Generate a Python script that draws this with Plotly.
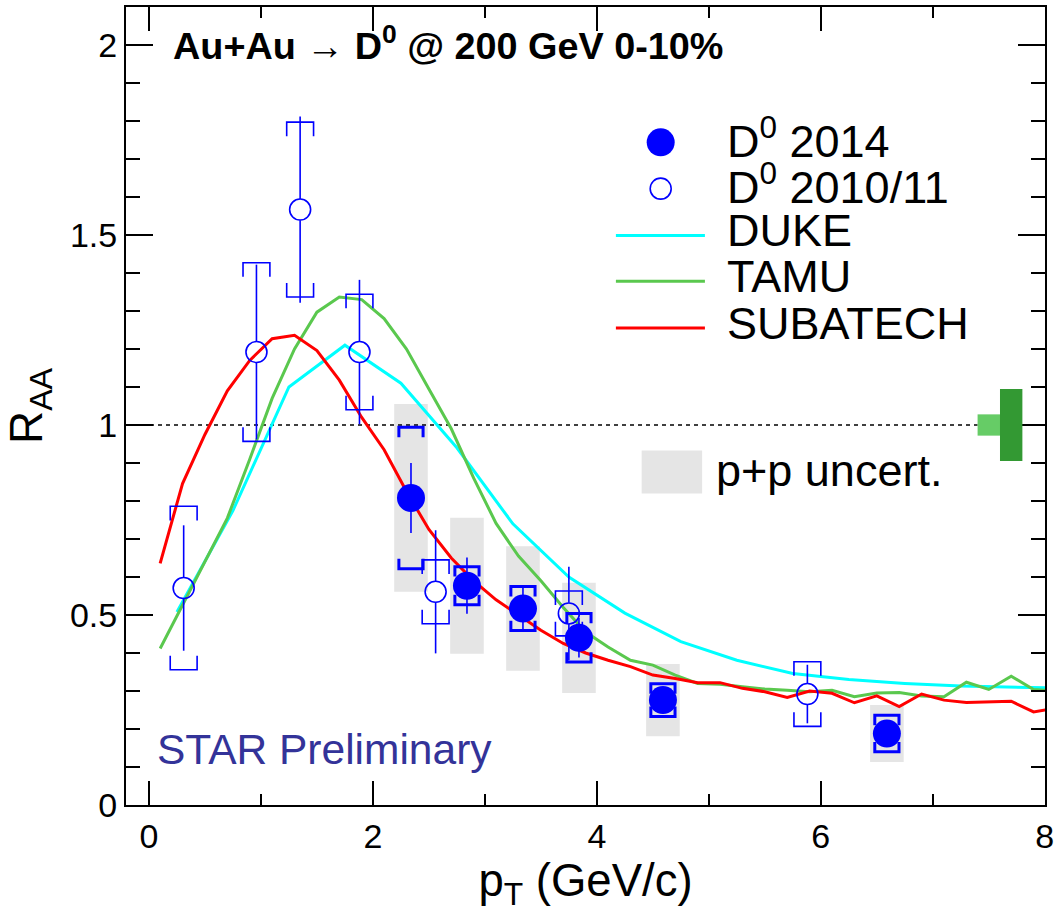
import plotly.graph_objects as go

FONT = "Liberation Sans, Arial, Helvetica, sans-serif"
BLUE = "#0000ff"

# ---------------- data ----------------
# D0 2014 (filled)
pt_2014 = [2.34, 2.84, 3.34, 3.84, 4.59, 6.59]
raa_2014 = [0.808, 0.577, 0.517, 0.440, 0.276, 0.188]
stat_2014 = [0.092, 0.074, 0.062, 0.052, 0.030, 0.028]
sys_2014 = [0.186, 0.050, 0.058, 0.064, 0.043, 0.048]
pp_2014 = [0.247, 0.179, 0.164, 0.145, 0.095, 0.075]

# D0 2010/11 (open)
pt_1011 = [0.31, 0.96, 1.35, 1.88, 2.56, 3.75, 5.88]
raa_1011 = [0.571, 1.192, 1.567, 1.192, 0.561, 0.504, 0.292]
stat_1011 = [0.165, 0.230, 0.245, 0.190, 0.162, 0.123, 0.077]
sys_1011 = [0.215, 0.235, 0.230, 0.152, 0.084, 0.059, 0.085]

# Models
duke_pt = [0.25, 0.75, 1.25, 1.75, 2.25, 2.75, 3.25, 3.75, 4.25, 4.75, 5.25,
           5.75, 6.25, 6.75, 7.25, 7.75, 8.25]
duke_raa = [0.508, 0.775, 1.10, 1.21, 1.11, 0.94, 0.74, 0.60, 0.505, 0.43, 0.381,
            0.346, 0.330, 0.320, 0.313, 0.309, 0.307]

model_pt = [0.1, 0.3, 0.5, 0.7, 0.9, 1.1, 1.3, 1.5, 1.7, 1.9,
            2.1, 2.3, 2.5, 2.7, 2.9, 3.1, 3.3, 3.5, 3.7, 3.9,
            4.1, 4.3, 4.5, 4.7, 4.9, 5.1, 5.3, 5.5, 5.7, 5.9,
            6.1, 6.3, 6.5, 6.7, 6.9, 7.1, 7.3, 7.5, 7.7, 7.9, 8.1]
tamu_raa = [0.412, 0.526, 0.640, 0.755, 0.910, 1.070, 1.200, 1.297, 1.337, 1.330,
            1.280, 1.200, 1.095, 0.990, 0.860, 0.741, 0.655, 0.590, 0.520, 0.455,
            0.416, 0.381, 0.368, 0.342, 0.320, 0.318, 0.311, 0.305, 0.302, 0.298,
            0.302, 0.285, 0.295, 0.296, 0.287, 0.285, 0.323, 0.304, 0.339, 0.304, 0.300]
subatech_raa = [0.636, 0.846, 0.975, 1.090, 1.170, 1.227, 1.236, 1.196, 1.118, 1.020,
                0.935, 0.825, 0.725, 0.650, 0.590, 0.540, 0.500, 0.460, 0.425, 0.400,
                0.381, 0.364, 0.342, 0.333, 0.322, 0.322, 0.307, 0.298, 0.283, 0.300,
                0.294, 0.269, 0.287, 0.259, 0.292, 0.276, 0.270, 0.272, 0.273, 0.245, 0.255]

# normalisation uncertainties at R_AA = 1
norm_center = [7.5, 7.7]
norm_err = [0.028, 0.095]
norm_colors = ["#66cc66", "#339933"]

x_range = [-0.205, 8.002]
y_range = [0.0, 2.1]
x_ticks = [0, 2, 4, 6, 8]
x_ticklabels = ["0", "2", "4", "6", "8"]
y_ticks = [0, 0.5, 1, 1.5, 2]
y_ticklabels = ["0", "0.5", "1", "1.5", "2"]

# ---------------- style constants ----------------
PP_HW = 0.15
BR_HW_F, BR_TIP_F = 0.108, 0.026
BR_HW_O, BR_TIP_O = 0.12, 0.037
OPEN_GAP = 0.028


def bracket_path(xs, ys, errs, hw, tip):
    px, py = [], []
    for x, y, e in zip(xs, ys, errs):
        px += [x - hw, x - hw, x + hw, x + hw, None, x - hw, x - hw, x + hw, x + hw, None]
        py += [y + e - tip, y + e, y + e, y + e - tip, None,
               y - e + tip, y - e, y - e, y - e + tip, None]
    return px, py


def stat_path(xs, ys, errs, gap):
    px, py = [], []
    for x, y, e in zip(xs, ys, errs):
        if e <= gap:
            continue
        px += [x, x, None, x, x, None]
        py += [y + gap, y + e, None, y - gap, y - e, None]
    return px, py


fig = go.Figure()

# p+p uncertainty boxes
for x, y, e in zip(pt_2014, raa_2014, pp_2014):
    fig.add_shape(type="rect", xref="x", yref="y", x0=x - PP_HW, x1=x + PP_HW,
                  y0=y - e, y1=y + e, fillcolor="#e5e5e5", line_width=0, layer="below")

# unity line
fig.add_shape(type="line", xref="x", yref="y", x0=x_range[0], x1=7.4, y0=1, y1=1,
              line=dict(color="black", width=1.3, dash="4px,4px"), layer="below")

# normalisation boxes
for c, e, col in zip(norm_center, norm_err, norm_colors):
    fig.add_shape(type="rect", xref="x", yref="y", x0=c - 0.1, x1=c + 0.1,
                  y0=1 - e, y1=1 + e, fillcolor=col, line_width=0, layer="above")

# model curves
fig.add_trace(go.Scatter(x=duke_pt, y=duke_raa, mode="lines", name="DUKE",
                         line=dict(color="#00ffff", width=3), showlegend=False))
fig.add_trace(go.Scatter(x=model_pt, y=tamu_raa, mode="lines", name="TAMU",
                         line=dict(color="#5ac84e", width=3), showlegend=False))
fig.add_trace(go.Scatter(x=model_pt, y=subatech_raa, mode="lines", name="SUBATECH",
                         line=dict(color="#ff0000", width=3), showlegend=False))

# 2010/11 data: brackets, stat, markers
bx, by = bracket_path(pt_1011, raa_1011, sys_1011, BR_HW_O, BR_TIP_O)
fig.add_trace(go.Scatter(x=bx, y=by, mode="lines", line=dict(color=BLUE, width=1.6),
                         showlegend=False, hoverinfo="skip"))
sx, sy = stat_path(pt_1011, raa_1011, stat_1011, OPEN_GAP)
fig.add_trace(go.Scatter(x=sx, y=sy, mode="lines", line=dict(color=BLUE, width=1.6),
                         showlegend=False, hoverinfo="skip"))
fig.add_trace(go.Scatter(x=pt_1011, y=raa_1011, mode="markers", name="D0 2010/11",
                         marker=dict(symbol="circle-open", size=21, color=BLUE,
                                     line=dict(width=1.6, color=BLUE)),
                         showlegend=False))

# 2014 data
bx, by = bracket_path(pt_2014, raa_2014, sys_2014, BR_HW_F, BR_TIP_F)
fig.add_trace(go.Scatter(x=bx, y=by, mode="lines", line=dict(color=BLUE, width=3),
                         showlegend=False, hoverinfo="skip"))
sx, sy = stat_path(pt_2014, raa_2014, stat_2014, 0.0)
fig.add_trace(go.Scatter(x=sx, y=sy, mode="lines", line=dict(color=BLUE, width=1.6),
                         showlegend=False, hoverinfo="skip"))
fig.add_trace(go.Scatter(x=pt_2014, y=raa_2014, mode="markers", name="D0 2014",
                         marker=dict(symbol="circle", size=28, color=BLUE,
                                     line=dict(width=0)),
                         showlegend=False))

# ---------------- hand-made legend ----------------
LX_MARK, LX_L0, LX_L1, LX_TEXT = 4.57, 4.17, 4.965, 5.14
leg_y = [1.744, 1.622, 1.499, 1.378, 1.255]
fig.add_trace(go.Scatter(x=[LX_MARK], y=[leg_y[0]], mode="markers", showlegend=False,
                         marker=dict(symbol="circle", size=28, color=BLUE, line=dict(width=0)),
                         hoverinfo="skip"))
fig.add_trace(go.Scatter(x=[LX_MARK], y=[leg_y[1]], mode="markers", showlegend=False,
                         marker=dict(symbol="circle-open", size=21, color=BLUE,
                                     line=dict(width=1.6, color=BLUE)),
                         hoverinfo="skip"))
for yy, col in zip(leg_y[2:], ["#00ffff", "#5ac84e", "#ff0000"]):
    fig.add_shape(type="line", xref="x", yref="y", x0=LX_L0, x1=LX_L1, y0=yy, y1=yy,
                  line=dict(color=col, width=3))
leg_text = ["D<sup>0</sup> 2014", "D<sup>0</sup> 2010/11", "DUKE", "TAMU", "SUBATECH"]
for yy, t in zip(leg_y, leg_text):
    fig.add_annotation(x=LX_TEXT, y=yy + 0.012, xref="x", yref="y", text=t, showarrow=False,
                       xanchor="left", yanchor="middle",
                       font=dict(family=FONT, size=45, color="black"))
# p+p uncert legend box
fig.add_shape(type="rect", xref="x", yref="y", x0=4.40, x1=4.94, y0=0.82, y1=0.933,
              fillcolor="#e5e5e5", line_width=0, layer="below")
fig.add_annotation(x=5.05, y=0.88, xref="x", yref="y", text="p+p uncert.", showarrow=False,
                   xanchor="left", yanchor="middle",
                   font=dict(family=FONT, size=45, color="black"))

# title and STAR preliminary
fig.add_annotation(x=0.049, y=0.955, xref="paper", yref="paper",
                   text="<b>Au+Au \u2192 D<sup>0</sup> @ 200 GeV 0-10%</b>", showarrow=False,
                   xanchor="left", yanchor="middle",
                   font=dict(family=FONT, size=37.8, color="black"))
fig.add_annotation(x=0.055, y=0.145, xref="x", yref="y", text="STAR Preliminary",
                   showarrow=False, xanchor="left", yanchor="middle",
                   font=dict(family=FONT, size=42.5, color="#333399"))

axis_common = dict(showline=True, linecolor="black", linewidth=2, mirror="allticks",
                   ticks="inside", tickcolor="black", tickwidth=1.5,
                   showgrid=False, zeroline=False, automargin=False,
                   ticklabeloverflow="allow",
                   tickfont=dict(family=FONT, size=34, color="black"))

fig.update_layout(
    width=1054, height=922,
    margin=dict(l=126, r=9, t=7, b=117, autoexpand=False),
    paper_bgcolor="white", plot_bgcolor="white",
    showlegend=False,
    xaxis=dict(range=x_range, tickvals=x_ticks, ticktext=x_ticklabels, ticklen=24,
               minor=dict(dtick=1, ticklen=11, ticks="inside", tickcolor="black", tickwidth=1.5),
               title=dict(text="p<sub>T</sub> (GeV/c)", standoff=7,
                          font=dict(family=FONT, size=45.5, color="black")),
               **axis_common),
    yaxis=dict(range=y_range, tickvals=y_ticks, ticktext=y_ticklabels, ticklen=27,
               minor=dict(dtick=0.1, ticklen=14, ticks="inside", tickcolor="black", tickwidth=1.5),
               title=dict(text="R<sub>AA</sub>", standoff=14,
                          font=dict(family=FONT, size=46, color="black")),
               **axis_common),
)

fig.write_html("out.html", config={"displayModeBar": False},
               post_script="document.body.style.margin='0px';document.body.style.overflow='hidden';")
